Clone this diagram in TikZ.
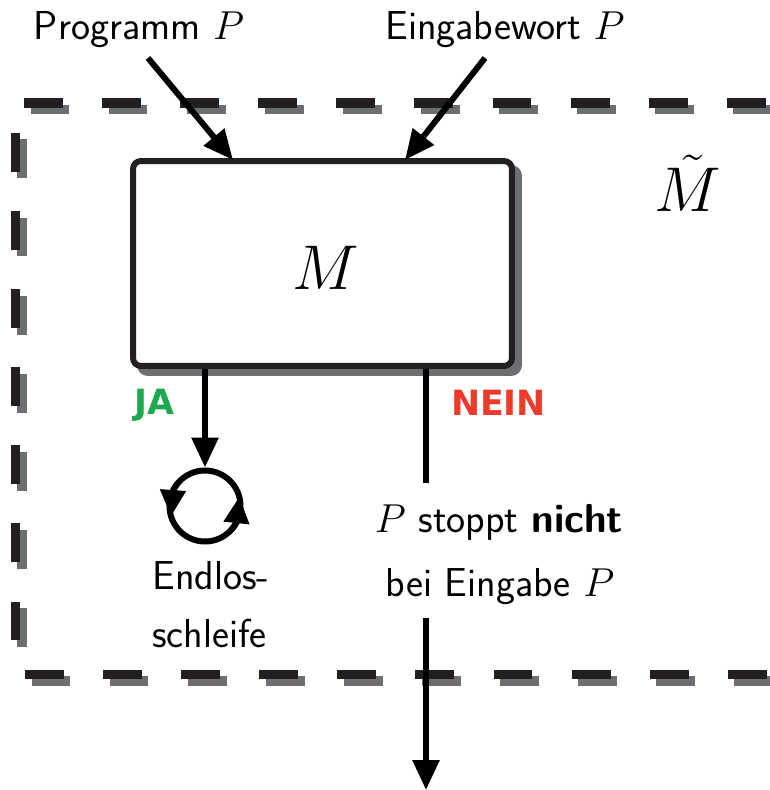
\RequirePackage{fix-cm}
\documentclass[tikz,border=0pt]{standalone}
\usepackage{fontspec}
\newfontfamily\flagfont{DejaVu Sans}
\usetikzlibrary{arrows.meta,bending}
\definecolor{ink}{HTML}{231F20}
\definecolor{shadowgray}{HTML}{6D6E71}
\definecolor{jagreen}{HTML}{1DAA4F}
\definecolor{neinred}{HTML}{EE3A2B}
\tikzset{
  txt/.style={font=\sffamily\fontsize{23}{27}\selectfont, inner sep=0pt, anchor=base},
  bigmath/.style={font=\fontsize{36}{40}\selectfont, inner sep=0pt, anchor=base},
  flag/.style={font=\flagfont\bfseries\fontsize{19.8}{22}\selectfont, inner sep=0pt, anchor=base},
  wire/.style={line width=3.4pt, black},
  arr/.style={wire, -{Triangle[length=17pt,width=14.7pt]}},
  looparr/.style={wire, -{Triangle[length=15pt,width=14pt]}},
  loopbox/.style={circle, draw=black, line width=3.4pt, minimum size=1.42cm, inner sep=0pt},
  machine/.style={rectangle, rounded corners=4.5pt, line width=3.4pt,
    minimum width=7.58cm, minimum height=4.1cm, inner sep=0pt},
  dashline/.style={line width=5.67pt, dash pattern=on 22.1pt off 22.35pt},
}
\begin{document}
\begin{tikzpicture}[x=0.02cm, y=0.02cm]
\useasboundingbox (0,0) rectangle (769,-790);

% outer dashed frame of the machine M~ (shadow first, then the frame)
\begin{scope}[dashline, draw=shadowgray, shift={(6.5,-6.5)}]
  \draw[shadowgray] (24,-103) -- (800,-103);
  \draw[shadowgray] (25,-674.5) -- (800,-674.5);
  \draw[shadowgray] (15.5,-133) -- (15.5,-650);
\end{scope}
\begin{scope}[dashline]
  \draw[ink] (24,-103) -- (800,-103);
  \draw[ink] (25,-674.5) -- (800,-674.5);
  \draw[ink] (15.5,-133) -- (15.5,-650);
\end{scope}

% inner machine M with its drop shadow
\node[machine, draw=shadowgray, fill=shadowgray] (mshadow) at (329.5,-270.5) {};
\node[machine, draw=ink, fill=white] (box) at (322.5,-263.5) {};
\node[bigmath] (mlabel) at (326,-290) {$M$};
\node[bigmath] (mtilde) at (688,-212) {$\tilde{M}$};

% inputs
\node[txt] (prog) at (139,-40) {Programm $P$};
\node[txt] (eing) at (505,-40) {Eingabewort $P$};
\coordinate (progtail) at (148,-58);
\coordinate (progin) at (233,-160);
\coordinate (eingtail) at (485,-58);
\coordinate (eingin) at (405,-160);
\draw[arr] (progtail) -- (progin);
\draw[arr] (eingtail) -- (eingin);

% JA branch: endless loop
\node[flag, text=jagreen] (ja) at (154,-414) {JA};
\node[loopbox] (loop) at (205,-506) {};
\draw[arr] (box.south -| loop.north) -- (loop.north);
\draw[looparr] ([shift={(140:35.5)}]loop.center) arc[start angle=140, end angle=197, radius=0.71cm];
\draw[looparr] ([shift={(-42:35.5)}]loop.center) arc[start angle=-42, end angle=15, radius=0.71cm];
\node[txt, anchor=base west] (endlos1) at (152,-589) {Endlos-};
\node[txt, anchor=base west] (endlos2) at (152,-647) {schleife};

% NEIN branch: leaves the machine
\node[flag, text=neinred] (nein) at (498.5,-415) {NEIN};
\coordinate (neinup) at (426,-483);
\draw[wire] (box.south -| neinup) -- (neinup);
\node[txt] (stop1) at (499,-532) {$P$ stoppt \textbf{nicht}};
\node[txt] (stop2) at (500,-596) {bei Eingabe $P$};
\coordinate (neindown) at (426,-618);
\coordinate (exit) at (426,-790);
\draw[arr] (neindown) -- (exit);
\end{tikzpicture}
\end{document}
